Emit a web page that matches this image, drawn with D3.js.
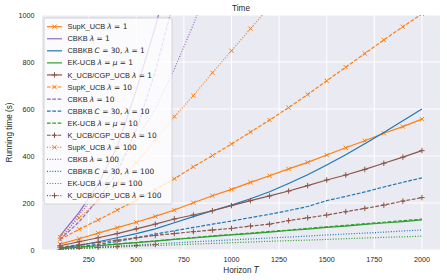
<!DOCTYPE html>
<html>
<head>
<meta charset="utf-8">
<script src="https://cdn.jsdelivr.net/npm/d3@7"></script>
<style>
  body { margin: 0; background: #fff; }
  svg { font-family: "Liberation Sans", Arial, sans-serif; }
  .m { font-family: "DejaVu Sans", sans-serif; }
</style>
</head>
<body>
<script>
// horizon values
var horizons = [100, 200, 300, 400, 500, 600, 700, 800, 900, 1000, 1100, 1200, 1300, 1400, 1500, 1600, 1700, 1800, 1900, 2000];

// running times
var supk1 = [25, 48, 72, 95, 118, 143, 170, 201, 231, 258, 288, 316, 345, 373, 404, 435, 465, 497, 525, 557];
var cbkb1 = [60, 160, 280, 440, 680, 950, 1250];
var cbbkb1 = [8, 20, 35, 52, 70, 90, 116, 142, 167, 191, 218, 248, 283, 320, 362, 405, 452, 500, 550, 600];
var ek1 = [6, 12, 18, 25, 31, 38, 45, 51, 58, 64, 70, 76, 83, 89, 96, 102, 109, 115, 121, 128];
var kucb1 = [18, 35, 52, 70, 90, 110, 132, 149, 167, 189, 210, 230, 251, 274, 298, 319, 343, 369, 395, 423];

var supk10 = [45, 88, 128, 170, 212, 257, 303, 354, 402, 451, 502, 553, 606, 662, 720, 778, 836, 894, 950, 1005];
var cbkb10 = [45, 120, 215, 330, 510, 760, 1070];
var cbbkb10 = [6, 14, 24, 36, 52, 68, 82, 96, 110, 123, 138, 152, 168, 185, 210, 228, 247, 268, 288, 307];
var ek10 = [6, 13, 19, 26, 32, 39, 46, 53, 60, 66, 72, 79, 85, 92, 99, 105, 112, 118, 125, 131];
var kucb10 = [12, 22, 32, 42, 52, 62, 70, 78, 85, 92, 102, 110, 125, 137, 149, 163, 177, 191, 208, 223];

var supk100 = [55, 137, 210, 285, 372, 470, 567, 657, 754, 848, 942, 1035];
var cbkb100 = [40, 150, 250, 360, 470, 600, 770, 960, 1170];
var cbbkb100 = [4, 8, 12, 17, 21, 26, 30, 35, 39, 43, 47, 51, 55, 59, 64, 68, 72, 76, 81, 85];
var ek100 = [3, 6, 9, 12, 16, 19, 22, 25, 28, 31, 34, 37, 40, 42, 45, 48, 51, 54, 56, 59];
var kucb100 = [3, 7, 11, 15, 19, 23];

var xTicks = [250, 500, 750, 1000, 1250, 1500, 1750, 2000];
var yTicks = [0, 200, 400, 600, 800, 1000];

var orange = "#ff7f0e", purple = "#9467bd", blue = "#1f77b4", green = "#2ca02c", brown = "#8c564b";

// label parts: [text, math?]
var series = [
  {lab: [["SupK_UCB "], ["λ = 1", 1]], vals: supk1, color: orange, dash: null, mark: "x"},
  {lab: [["CBKB "], ["λ = 1", 1]], vals: cbkb1, color: purple, dash: null, mark: null},
  {lab: [["CBBKB "], ["C = 30, λ = 1", 1]], vals: cbbkb1, color: blue, dash: null, mark: null},
  {lab: [["EK-UCB "], ["λ = μ = 1", 1]], vals: ek1, color: green, dash: null, mark: null},
  {lab: [["K_UCB/CGP_UCB "], ["λ = 1", 1]], vals: kucb1, color: brown, dash: null, mark: "+"},
  {lab: [["SupK_UCB "], ["λ = 10", 1]], vals: supk10, color: orange, dash: "3.7,1.6", mark: "x"},
  {lab: [["CBKB "], ["λ = 10", 1]], vals: cbkb10, color: purple, dash: "3.7,1.6", mark: null},
  {lab: [["CBBKB "], ["C = 30, λ = 10", 1]], vals: cbbkb10, color: blue, dash: "3.7,1.6", mark: null},
  {lab: [["EK-UCB "], ["λ = μ = 10", 1]], vals: ek10, color: green, dash: "3.7,1.6", mark: null},
  {lab: [["K_UCB/CGP_UCB "], ["λ = 10", 1]], vals: kucb10, color: brown, dash: "3.7,1.6", mark: "+"},
  {lab: [["SupK_UCB "], ["λ = 100", 1]], vals: supk100, color: orange, dash: "1,1.65", mark: "x"},
  {lab: [["CBKB "], ["λ = 100", 1]], vals: cbkb100, color: purple, dash: "1,1.65", mark: null},
  {lab: [["CBBKB "], ["C = 30, λ = 100", 1]], vals: cbbkb100, color: blue, dash: "1,1.65", mark: null},
  {lab: [["EK-UCB "], ["λ = μ = 100", 1]], vals: ek100, color: green, dash: "1,1.65", mark: null},
  {lab: [["K_UCB/CGP_UCB "], ["λ = 100", 1]], vals: kucb100, color: brown, dash: "1,1.65", mark: "+"}
];

var W = 447, H = 280;
var margin = {top: 15, right: 7, bottom: 30, left: 42};
var width = W - margin.left - margin.right,
    height = H - margin.top - margin.bottom;

var svg = d3.select("body").append("svg")
    .attr("width", W)
    .attr("height", H);

var x = d3.scaleLinear().domain([5, 2095]).range([0, width]);
var y = d3.scaleLinear().domain([0, 1000]).range([height, 0]);

var g = svg.append("g")
    .attr("transform", "translate(" + margin.left + "," + margin.top + ")");

g.append("rect")
    .attr("width", width)
    .attr("height", height)
    .attr("fill", "#eaeaf2");

svg.append("defs").append("clipPath").attr("id", "clip")
  .append("rect").attr("width", width).attr("height", height);

// grid
g.selectAll(".gx").data(xTicks).enter().append("line")
    .attr("x1", function(d) { return x(d); })
    .attr("x2", function(d) { return x(d); })
    .attr("y1", 0).attr("y2", height)
    .attr("stroke", "#fff").attr("stroke-width", 1);
g.selectAll(".gy").data(yTicks).enter().append("line")
    .attr("y1", function(d) { return y(d); })
    .attr("y2", function(d) { return y(d); })
    .attr("x1", 0).attr("x2", width)
    .attr("stroke", "#fff").attr("stroke-width", 1);

// tick labels
g.selectAll(".tx").data(xTicks).enter().append("text")
    .attr("x", function(d) { return x(d); })
    .attr("y", height + 11.5)
    .attr("text-anchor", "middle")
    .attr("font-size", "7.2px")
    .attr("fill", "#262626")
    .text(function(d) { return d; });
g.selectAll(".ty").data(yTicks).enter().append("text")
    .attr("x", -7.5)
    .attr("y", function(d) { return y(d); })
    .attr("dy", "0.35em")
    .attr("text-anchor", "end")
    .attr("font-size", "7.2px")
    .attr("fill", "#262626")
    .text(function(d) { return d; });

// axis labels and title
svg.append("text")
    .attr("x", margin.left + width / 2)
    .attr("y", 11)
    .attr("text-anchor", "middle")
    .attr("font-size", "8.2px")
    .attr("fill", "#262626")
    .text("Time");

var xl = svg.append("text")
    .attr("x", margin.left + width / 2)
    .attr("y", 272.5)
    .attr("text-anchor", "middle")
    .attr("font-size", "8.2px")
    .attr("fill", "#262626");
xl.append("tspan").text("Horizon ");
xl.append("tspan").attr("class", "m").attr("font-style", "italic").text("T");

svg.append("text")
    .attr("transform", "translate(11.5," + (margin.top + height / 2) + ") rotate(-90)")
    .attr("text-anchor", "middle")
    .attr("font-size", "8.2px")
    .attr("fill", "#262626")
    .text("Running time (s)");

// series
var plot = g.append("g").attr("clip-path", "url(#clip)");

var line = d3.line()
    .x(function(d) { return x(d[0]); })
    .y(function(d) { return y(d[1]); });

function markerPath(type, s) {
  if (type == "x")
    return "M" + (-s) + "," + (-s) + "L" + s + "," + s + "M" + (-s) + "," + s + "L" + s + "," + (-s);
  return "M" + (-s * 1.3) + ",0L" + (s * 1.3) + ",0M0," + (-s * 1.3) + "L0," + (s * 1.3);
}

series.forEach(function(s) {
  var pts = s.vals.map(function(v, i) { return [horizons[i], v]; });
  plot.append("path")
      .attr("d", line(pts))
      .attr("fill", "none")
      .attr("stroke", s.color)
      .attr("stroke-width", 1.2)
      .attr("stroke-dasharray", s.dash);
  if (s.mark) {
    plot.selectAll(null).data(pts).enter().append("path")
        .attr("transform", function(d) { return "translate(" + x(d[0]) + "," + y(d[1]) + ")"; })
        .attr("d", markerPath(s.mark, 2.1))
        .attr("fill", "none")
        .attr("stroke", s.color)
        .attr("stroke-width", 1);
  }
});

// legend
var leg = g.append("g").attr("transform", "translate(2,3)");
leg.append("rect")
    .attr("width", 128)
    .attr("height", 186)
    .attr("rx", 2)
    .attr("fill", "#fff")
    .attr("fill-opacity", 0.8)
    .attr("stroke", "#cccccc")
    .attr("stroke-width", 0.8);

var rows = leg.selectAll(".row").data(series).enter().append("g")
    .attr("transform", function(d, i) { return "translate(0," + (8.7 + i * 12.06) + ")"; });

rows.append("line")
    .attr("x1", 3).attr("x2", 18)
    .attr("stroke", function(d) { return d.color; })
    .attr("stroke-width", 1.2)
    .attr("stroke-dasharray", function(d) { return d.dash; });

rows.filter(function(d) { return d.mark; }).append("path")
    .attr("transform", "translate(10.5,0)")
    .attr("d", function(d) { return markerPath(d.mark, 2.1); })
    .attr("fill", "none")
    .attr("stroke", function(d) { return d.color; })
    .attr("stroke-width", 1);

var txt = rows.append("text")
    .attr("x", 23.5)
    .attr("dy", "0.35em")
    .attr("font-size", "7.4px")
    .attr("fill", "#262626");
txt.each(function(d) {
  var t = d3.select(this);
  d.lab.forEach(function(p) {
    if (!p[1]) {
      t.append("tspan").text(p[0]);
      return;
    }
    // math part: letters italic, rest upright
    p[0].split(/([A-Za-zλμ])/).forEach(function(piece) {
      if (!piece) return;
      var sp = t.append("tspan").attr("class", "m").text(piece);
      if (/^[A-Za-zλμ]$/.test(piece)) sp.attr("font-style", "italic");
    });
  });
});
</script>
</body>
</html>
